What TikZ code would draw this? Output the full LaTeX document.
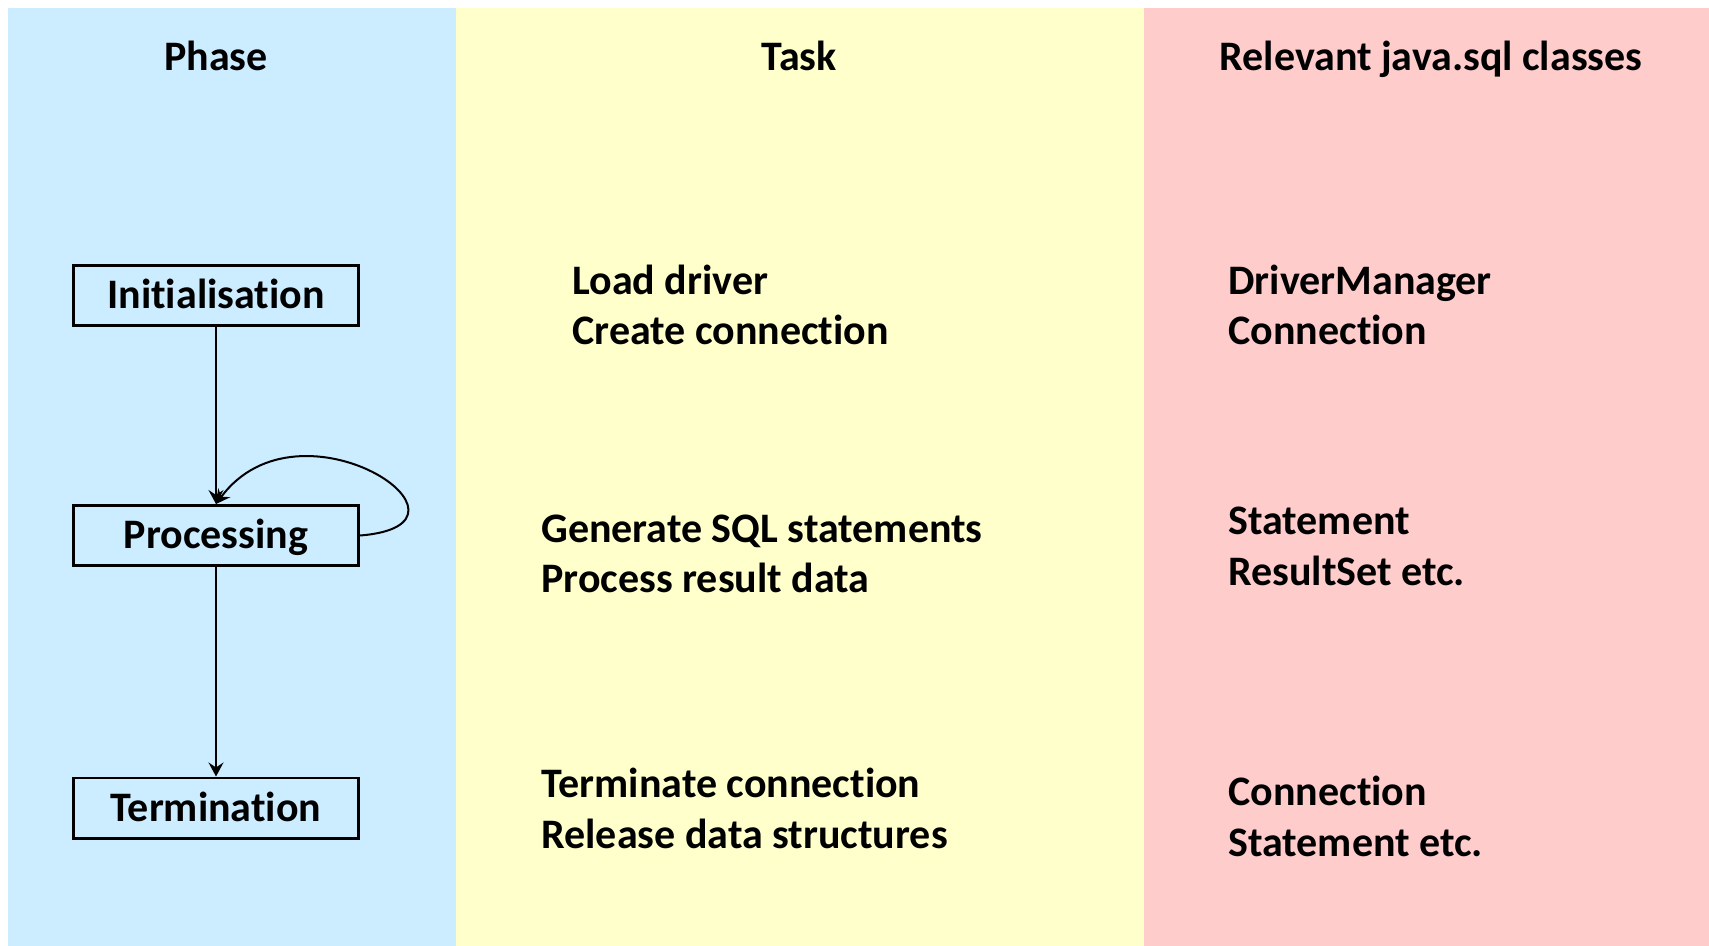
\documentclass[tikz,border=0pt]{standalone}
\usepackage{fontspec}
\setmainfont{Carlito}[Ligatures={NoCommon,NoRare,NoContextual}]
\usetikzlibrary{arrows.meta}
\definecolor{phaseblue}{HTML}{CCECFF}
\definecolor{taskyellow}{HTML}{FFFFCC}
\definecolor{classred}{HTML}{FFCCCC}
\begin{document}
\begin{tikzpicture}[x=0.5pt,y=-0.5pt,
  txt/.style={font=\fontsize{21}{25}\selectfont\bfseries, inner sep=0pt},
  phasebox/.style={draw, line width=1.3pt, minimum width=142.7pt, minimum height=30.2pt,
    inner sep=0pt, text height=13.3pt, text depth=0pt,
    font=\fontsize{21}{25}\selectfont\bfseries},
  flow/.style={line width=1pt, -{Stealth[length=7pt,width=7.5pt,inset=2.5pt]}}]
  % page and the three column panels
  \fill[white] (0,0) rectangle (1709,946);
  \useasboundingbox (0,0) rectangle (1709,946);
  \fill[phaseblue] (8,8) rectangle (456,946);
  \fill[taskyellow] (456,8) rectangle (1144,946);
  \fill[classred] (1144,8) rectangle (1709,946);

  % column headings
  \node[txt, anchor=base] (hphase) at (216,71) {Phase};
  \node[txt, anchor=base] (htask) at (799,71) {Task};
  \node[txt, anchor=base] (hclass) at (1431,71) {Relevant java.sql classes};

  % phases
  \node[phasebox] (init) at (216,295.5) {Initialisation};
  \node[phasebox] (proc) at (216,535.5) {Processing};
  \node[phasebox] (term) at (216,808) {Termination};

  \draw[flow] (init) -- (proc);
  \draw[flow] (proc) -- (term);
  \draw[flow] (proc.east) .. controls +(140,-11) and +(84,-114) .. (proc.north);

  % tasks
  \node[txt, anchor=base west] (t1a) at (572,295) {Load driver};
  \node[txt, anchor=base west] (t1b) at (572,345) {Create connection};
  \node[txt, anchor=base west] (t2a) at (541,543) {Generate SQL statements};
  \node[txt, anchor=base west] (t2b) at (541,593) {Process result data};
  \node[txt, anchor=base west] (t3a) at (541,797) {Terminate connection};
  \node[txt, anchor=base west] (t3b) at (541,848) {Release data structures};

  % classes
  \node[txt, anchor=base west] (c1a) at (1228,295) {DriverManager};
  \node[txt, anchor=base west] (c1b) at (1228,345) {Connection};
  \node[txt, anchor=base west] (c2a) at (1228,535) {Statement};
  \node[txt, anchor=base west] (c2b) at (1228,586) {ResultSet etc.};
  \node[txt, anchor=base west] (c3a) at (1228,805) {Connection};
  \node[txt, anchor=base west] (c3b) at (1228,856) {Statement etc.};
\end{tikzpicture}
\end{document}
